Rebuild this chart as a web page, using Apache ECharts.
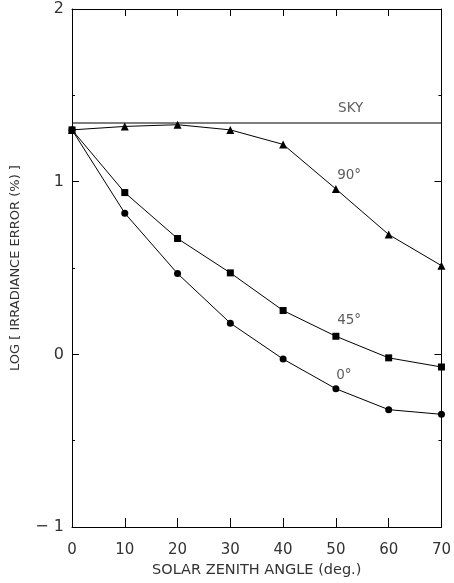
<!DOCTYPE html>
<html>
<head>
<meta charset="utf-8">
<script src="https://cdn.jsdelivr.net/npm/echarts@6/dist/echarts.min.js"></script>
<style>html,body{margin:0;padding:0;background:#fff}#c{width:454px;height:583px}</style>
</head>
<body>
<div id="c"></div>
<script>
var angles = [0, 10, 20, 30, 40, 50, 60, 70];
var zen90 = [1.30, 1.32, 1.33, 1.30, 1.216, 0.958, 0.694, 0.514];
var zen45 = [1.30, 0.937, 0.671, 0.472, 0.254, 0.105, -0.020, -0.073];
var zen0 = [1.30, 0.818, 0.468, 0.181, -0.027, -0.199, -0.320, -0.347];
var skyX = [0, 70];
var skyY = [1.34, 1.34];
var curveLabels = [
  [52.8, 1.426, 'SKY'],
  [52.5, 1.036, '90°'],
  [52.5, 0.199, '45°'],
  [51.5, -0.123, '0°']
];
var xTicks = [0, 10, 20, 30, 40, 50, 60, 70];
var yTicks = [-1, 0, 1, 2];

function pairs(xs, ys) { return xs.map(function (x, i) { return [x, ys[i]]; }); }

var font = '"DejaVu Sans", "Liberation Sans", sans-serif';
var fw = 'normal';
var tc = '#333';
var chart = echarts.init(document.getElementById('c'), null, { renderer: 'canvas' });
var lineStyle = { color: '#000', width: 1 };
var axisCommon = {
  type: 'value',
  axisLine: { show: true, onZero: false, lineStyle: { color: '#000', width: 1 } },
  splitLine: { show: false }
};
chart.setOption({
  animation: false,
  backgroundColor: '#fff',
  grid: { left: 72, top: 9, right: 11, bottom: 51, containLabel: false },
  xAxis: [
    Object.assign({}, axisCommon, {
      min: 0, max: 70, interval: 10, position: 'bottom',
      name: 'SOLAR ZENITH ANGLE (deg.)', nameLocation: 'middle', nameGap: 34,
      nameTextStyle: { fontFamily: font, fontWeight: fw, fontSize: 14.5, color: tc },
      axisTick: { show: true, inside: true, length: 9, lineStyle: { color: '#000' } },
      axisLabel: { fontFamily: font, fontWeight: fw, fontSize: 15, color: tc, margin: 16,
        formatter: function (v) { return xTicks.indexOf(v) >= 0 ? String(v) : ''; } }
    }),
    Object.assign({}, axisCommon, {
      min: 0, max: 70, interval: 10, position: 'top',
      axisTick: { show: true, inside: true, length: 7, lineStyle: { color: '#000' } },
      axisLabel: { show: false }
    })
  ],
  yAxis: [
    Object.assign({}, axisCommon, {
      min: -1, max: 2, interval: 1, position: 'left',
      name: 'LOG [ IRRADIANCE ERROR (%) ]', nameLocation: 'middle', nameGap: 50,
      nameRotate: 90,
      nameTextStyle: { fontFamily: font, fontWeight: fw, fontSize: 13, color: tc },
      axisTick: { show: true, inside: true, length: 7, lineStyle: { color: '#000' } },
      minorTick: { show: true, splitNumber: 2, length: 3, lineStyle: { color: '#000' } },
      axisLabel: { fontFamily: font, fontWeight: fw, fontSize: 16, color: tc, margin: 8,
        formatter: function (v) { return yTicks.indexOf(v) >= 0 ? (v < 0 ? '\u2212 ' + Math.abs(v) : String(v)) : ''; } }
    }),
    Object.assign({}, axisCommon, {
      min: -1, max: 2, interval: 1, position: 'right',
      axisTick: { show: true, inside: true, length: 7, lineStyle: { color: '#000' } },
      minorTick: { show: true, splitNumber: 2, length: 3, lineStyle: { color: '#000' } },
      axisLabel: { show: false }
    })
  ],
  series: [
    { type: 'line', data: pairs(skyX, skyY), symbol: 'none', lineStyle: { color: '#000', width: 1.2 } },
    { type: 'line', data: pairs(angles, zen90), symbol: 'triangle', symbolSize: 8,
      itemStyle: { color: '#000' }, lineStyle: lineStyle },
    { type: 'line', data: pairs(angles, zen45), symbol: 'rect', symbolSize: 7,
      itemStyle: { color: '#000' }, lineStyle: lineStyle },
    { type: 'line', data: pairs(angles, zen0), symbol: 'circle', symbolSize: 7,
      itemStyle: { color: '#000' }, lineStyle: lineStyle },
    { type: 'scatter', data: curveLabels, symbolSize: 0, silent: true,
      label: { show: true, position: 'inside', fontFamily: font, fontWeight: fw, fontSize: 13.5, color: tc,
        formatter: function (p) { return p.data[2]; } } }
  ]
});
</script>
</body>
</html>
